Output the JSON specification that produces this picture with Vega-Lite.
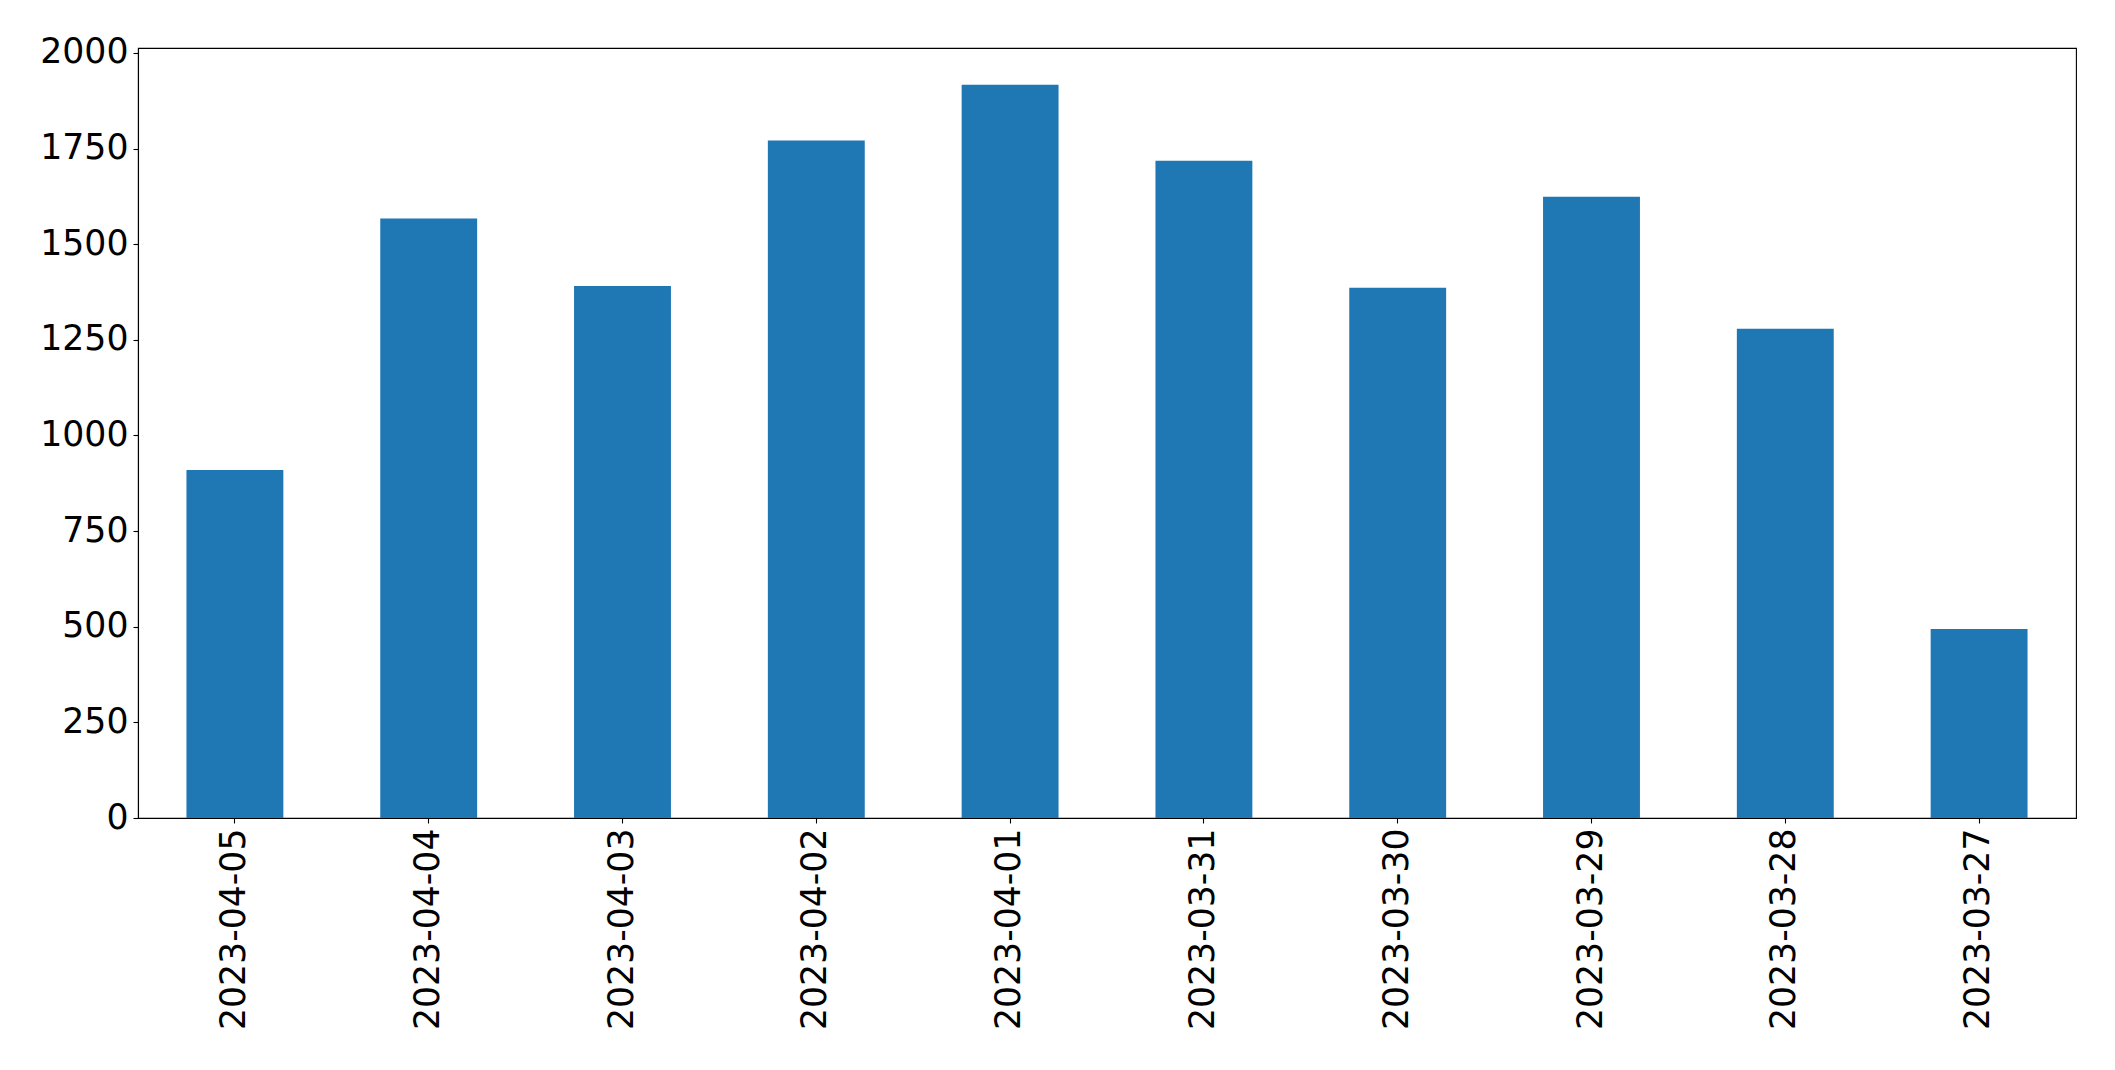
{
  "$schema": "https://vega.github.io/schema/vega-lite/v6.json",
  "width": 1938,
  "height": 770,
  "autosize": {"type": "none"},
  "padding": {"left": 138, "top": 48, "right": 39, "bottom": 252},
  "background": "white",
  "config": {
    "view": {"stroke": "black", "strokeWidth": 1.1},
    "font": "DejaVu Sans",
    "axis": {
      "labelFont": "DejaVu Sans",
      "labelFontSize": 34.7,
      "labelColor": "black",
      "labelLimit": 0,
      "tickColor": "black",
      "tickSize": 5,
      "tickWidth": 1.1,
      "domainColor": "black",
      "domainWidth": 1.1,
      "labelPadding": 5,
      "grid": false,
      "title": null
    }
  },
  "data": {
    "values": [
      {"date": "2023-04-05", "count": 910},
      {"date": "2023-04-04", "count": 1567},
      {"date": "2023-04-03", "count": 1391},
      {"date": "2023-04-02", "count": 1771},
      {"date": "2023-04-01", "count": 1917},
      {"date": "2023-03-31", "count": 1718},
      {"date": "2023-03-30", "count": 1386},
      {"date": "2023-03-29", "count": 1624},
      {"date": "2023-03-28", "count": 1279},
      {"date": "2023-03-27", "count": 494}
    ]
  },
  "mark": {"type": "bar", "color": "#1f77b4"},
  "encoding": {
    "x": {
      "field": "date",
      "type": "nominal",
      "sort": null,
      "scale": {"paddingInner": 0.5, "paddingOuter": 0.25},
      "axis": {"labelAngle": -90, "labelAlign": "right", "labelBaseline": "middle", "labelLimit": 0}
    },
    "y": {
      "field": "count",
      "type": "quantitative",
      "scale": {"domain": [0, 2013], "nice": false, "zero": true},
      "axis": {"values": [0, 250, 500, 750, 1000, 1250, 1500, 1750, 2000], "format": "d", "labelFlush": false, "labelOverlap": false}
    }
  }
}
